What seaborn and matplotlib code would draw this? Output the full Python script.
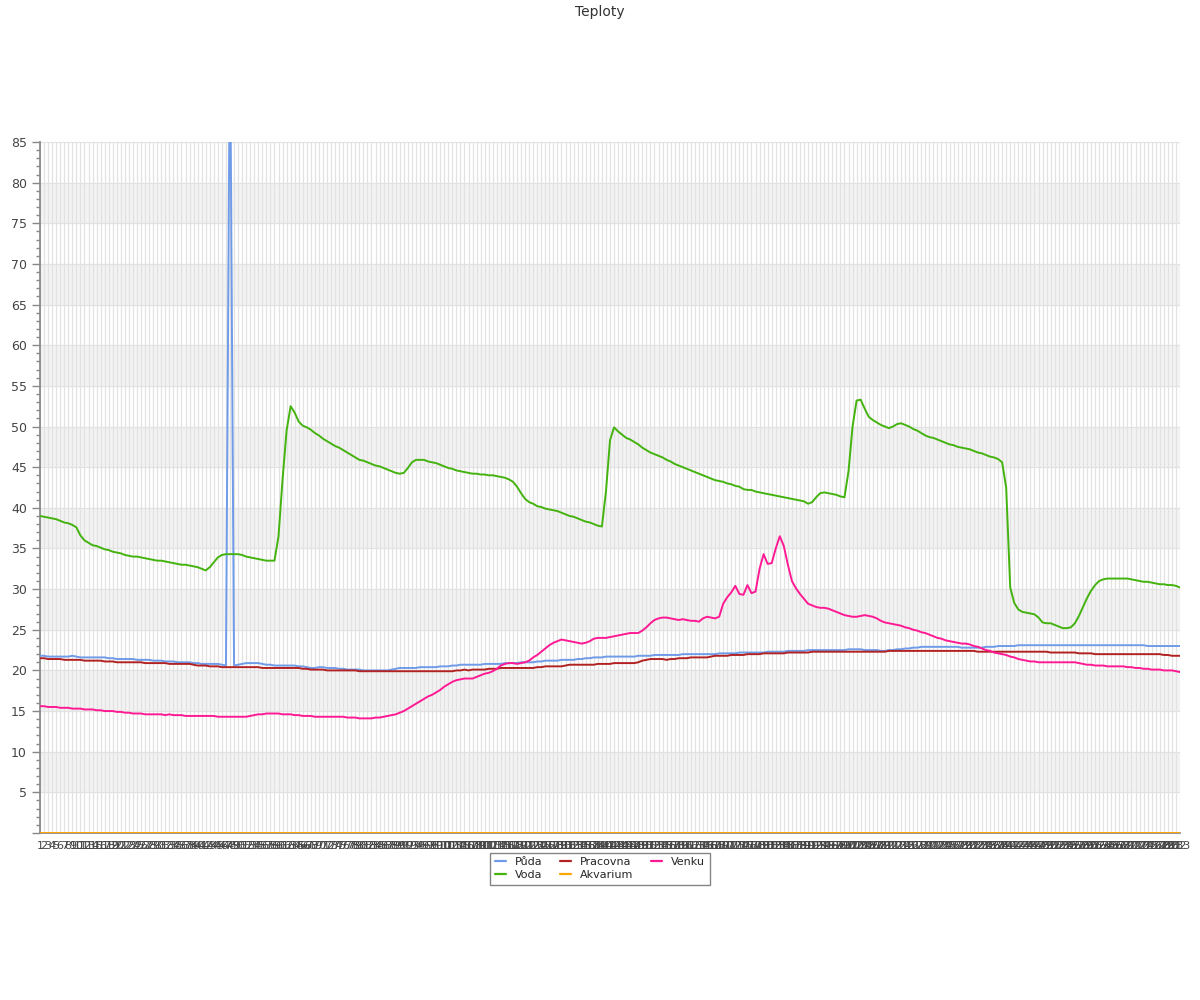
import matplotlib
matplotlib.use("Agg")
import matplotlib.pyplot as plt
import pandas as pd
import seaborn as sns

# category labels along x (sample numbers)
labels = [str(n) for n in range(1, 284)]

puda = [
    21.8, 21.8, 21.7, 21.7, 21.7, 21.7, 21.7, 21.7, 21.8, 21.7,
    21.6, 21.6, 21.6, 21.6, 21.6, 21.6, 21.6, 21.5, 21.5, 21.4,
    21.4, 21.4, 21.4, 21.4, 21.3, 21.3, 21.3, 21.3, 21.2, 21.2,
    21.2, 21.1, 21.1, 21.1, 21.0, 21.0, 21.0, 21.0, 20.9, 20.9,
    20.8, 20.8, 20.8, 20.8, 20.8, 20.7, 20.6, 100.0, 20.6, 20.7,
    20.8, 20.9, 20.9, 20.9, 20.9, 20.8, 20.7, 20.7, 20.6, 20.6,
    20.6, 20.6, 20.6, 20.6, 20.5, 20.5, 20.4, 20.3, 20.3, 20.4,
    20.4, 20.3, 20.3, 20.3, 20.2, 20.2, 20.1, 20.1, 20.1, 20.1,
    20.0, 20.0, 20.0, 20.0, 20.0, 20.0, 20.0, 20.1, 20.2, 20.3,
    20.3, 20.3, 20.3, 20.3, 20.4, 20.4, 20.4, 20.4, 20.4, 20.5,
    20.5, 20.5, 20.6, 20.6, 20.7, 20.7, 20.7, 20.7, 20.7, 20.7,
    20.8, 20.8, 20.8, 20.8, 20.8, 20.9, 20.9, 20.9, 20.9, 21.0,
    21.0, 21.0, 21.0, 21.1, 21.1, 21.2, 21.2, 21.2, 21.2, 21.3,
    21.3, 21.3, 21.3, 21.4, 21.4, 21.5, 21.5, 21.6, 21.6, 21.6,
    21.7, 21.7, 21.7, 21.7, 21.7, 21.7, 21.7, 21.7, 21.8, 21.8,
    21.8, 21.8, 21.9, 21.9, 21.9, 21.9, 21.9, 21.9, 21.9, 22.0,
    22.0, 22.0, 22.0, 22.0, 22.0, 22.0, 22.0, 22.0, 22.1, 22.1,
    22.1, 22.1, 22.1, 22.2, 22.2, 22.2, 22.2, 22.2, 22.2, 22.2,
    22.3, 22.3, 22.3, 22.3, 22.3, 22.4, 22.4, 22.4, 22.4, 22.4,
    22.5, 22.5, 22.5, 22.5, 22.5, 22.5, 22.5, 22.5, 22.5, 22.5,
    22.6, 22.6, 22.6, 22.6, 22.5, 22.5, 22.5, 22.5, 22.4, 22.4,
    22.5, 22.5, 22.6, 22.6, 22.7, 22.7, 22.8, 22.8, 22.9, 22.9,
    22.9, 22.9, 22.9, 22.9, 22.9, 22.9, 22.9, 22.9, 22.8, 22.8,
    22.8, 22.8, 22.8, 22.8, 22.9, 22.9, 22.9, 23.0, 23.0, 23.0,
    23.0, 23.0, 23.1, 23.1, 23.1, 23.1, 23.1, 23.1, 23.1, 23.1,
    23.1, 23.1, 23.1, 23.1, 23.1, 23.1, 23.1, 23.1, 23.1, 23.1,
    23.1, 23.1, 23.1, 23.1, 23.1, 23.1, 23.1, 23.1, 23.1, 23.1,
    23.1, 23.1, 23.1, 23.1, 23.0, 23.0, 23.0, 23.0, 23.0, 23.0,
    23.0, 23.0, 23.0,
]

voda = [
    39.0, 38.9, 38.8, 38.7, 38.6, 38.4, 38.2, 38.1, 37.9, 37.6,
    36.6, 36.0, 35.7, 35.4, 35.3, 35.1, 34.9, 34.8, 34.6, 34.5,
    34.4, 34.2, 34.1, 34.0, 34.0, 33.9, 33.8, 33.7, 33.6, 33.5,
    33.5, 33.4, 33.3, 33.2, 33.1, 33.0, 33.0, 32.9, 32.8, 32.7,
    32.5, 32.3, 32.7, 33.3, 33.9, 34.2, 34.3, 34.3, 34.3, 34.3,
    34.2, 34.0, 33.9, 33.8, 33.7, 33.6, 33.5, 33.5, 33.5, 36.5,
    43.5, 49.5, 52.5, 51.7, 50.6, 50.1, 49.9, 49.6, 49.2, 48.9,
    48.5, 48.2, 47.9, 47.6, 47.4, 47.1, 46.8, 46.5, 46.2, 45.9,
    45.8, 45.6, 45.4, 45.2, 45.1, 44.9, 44.7, 44.5, 44.3, 44.2,
    44.3, 44.9, 45.6, 45.9, 45.9, 45.9, 45.7, 45.6, 45.5, 45.3,
    45.1, 44.9, 44.8, 44.6, 44.5, 44.4, 44.3, 44.2, 44.2, 44.1,
    44.1, 44.0, 44.0, 43.9, 43.8, 43.7, 43.5, 43.2, 42.6, 41.8,
    41.1, 40.7, 40.5, 40.2, 40.1, 39.9, 39.8, 39.7, 39.6, 39.4,
    39.2, 39.0, 38.9, 38.7, 38.5, 38.3, 38.2, 38.0, 37.8, 37.7,
    42.0, 48.3, 49.9, 49.4, 49.0, 48.6, 48.4, 48.1, 47.8, 47.4,
    47.1, 46.8, 46.6, 46.4, 46.2, 45.9, 45.7, 45.4, 45.2, 45.0,
    44.8, 44.6, 44.4, 44.2, 44.0, 43.8, 43.6, 43.4, 43.3, 43.2,
    43.0, 42.9, 42.7, 42.6, 42.3, 42.2, 42.2, 42.0, 41.9, 41.8,
    41.7, 41.6, 41.5, 41.4, 41.3, 41.2, 41.1, 41.0, 40.9, 40.8,
    40.5, 40.7, 41.3, 41.8, 41.9, 41.8, 41.7, 41.6, 41.4, 41.3,
    44.5, 50.0, 53.2, 53.3, 52.2, 51.2, 50.8, 50.5, 50.2, 50.0,
    49.8, 50.0, 50.3, 50.4, 50.2, 50.0, 49.7, 49.5, 49.2, 48.9,
    48.7, 48.6, 48.4, 48.2, 48.0, 47.8, 47.7, 47.5, 47.4, 47.3,
    47.2, 47.0, 46.8, 46.7, 46.5, 46.3, 46.2, 46.0, 45.6, 42.5,
    30.2, 28.3, 27.5, 27.2, 27.1, 27.0, 26.9, 26.5, 25.9, 25.8,
    25.8, 25.6, 25.4, 25.2, 25.2, 25.3, 25.8, 26.7, 27.8, 28.9,
    29.8, 30.5, 31.0, 31.2, 31.3, 31.3, 31.3, 31.3, 31.3, 31.3,
    31.2, 31.1, 31.0, 30.9, 30.9, 30.8, 30.7, 30.6, 30.6, 30.5,
    30.5, 30.4, 30.2,
]

pracovna = [
    21.5, 21.5, 21.4, 21.4, 21.4, 21.4, 21.3, 21.3, 21.3, 21.3,
    21.3, 21.2, 21.2, 21.2, 21.2, 21.2, 21.1, 21.1, 21.1, 21.0,
    21.0, 21.0, 21.0, 21.0, 21.0, 21.0, 20.9, 20.9, 20.9, 20.9,
    20.9, 20.9, 20.8, 20.8, 20.8, 20.8, 20.8, 20.8, 20.7, 20.6,
    20.6, 20.6, 20.5, 20.5, 20.5, 20.4, 20.4, 20.4, 20.4, 20.4,
    20.4, 20.4, 20.4, 20.4, 20.4, 20.3, 20.3, 20.3, 20.3, 20.3,
    20.3, 20.3, 20.3, 20.3, 20.3, 20.2, 20.2, 20.1, 20.1, 20.1,
    20.1, 20.0, 20.0, 20.0, 20.0, 20.0, 20.0, 20.0, 20.0, 19.9,
    19.9, 19.9, 19.9, 19.9, 19.9, 19.9, 19.9, 19.9, 19.9, 19.9,
    19.9, 19.9, 19.9, 19.9, 19.9, 19.9, 19.9, 19.9, 19.9, 19.9,
    19.9, 19.9, 19.9, 20.0, 20.0, 20.1, 20.0, 20.1, 20.1, 20.1,
    20.1, 20.2, 20.2, 20.2, 20.3, 20.3, 20.3, 20.3, 20.3, 20.3,
    20.3, 20.3, 20.3, 20.4, 20.4, 20.5, 20.5, 20.5, 20.5, 20.5,
    20.6, 20.7, 20.7, 20.7, 20.7, 20.7, 20.7, 20.7, 20.8, 20.8,
    20.8, 20.8, 20.9, 20.9, 20.9, 20.9, 20.9, 20.9, 21.0, 21.2,
    21.3, 21.4, 21.4, 21.4, 21.4, 21.3, 21.4, 21.4, 21.5, 21.5,
    21.5, 21.6, 21.6, 21.6, 21.6, 21.6, 21.7, 21.8, 21.8, 21.8,
    21.8, 21.9, 21.9, 21.9, 21.9, 22.0, 22.0, 22.0, 22.0, 22.1,
    22.1, 22.1, 22.1, 22.1, 22.1, 22.2, 22.2, 22.2, 22.2, 22.2,
    22.2, 22.3, 22.3, 22.3, 22.3, 22.3, 22.3, 22.3, 22.3, 22.3,
    22.3, 22.3, 22.3, 22.3, 22.3, 22.3, 22.3, 22.3, 22.3, 22.3,
    22.4, 22.4, 22.4, 22.4, 22.4, 22.4, 22.4, 22.4, 22.4, 22.4,
    22.4, 22.4, 22.4, 22.4, 22.4, 22.4, 22.4, 22.4, 22.4, 22.4,
    22.4, 22.4, 22.3, 22.3, 22.3, 22.3, 22.3, 22.3, 22.3, 22.3,
    22.3, 22.3, 22.3, 22.3, 22.3, 22.3, 22.3, 22.3, 22.3, 22.3,
    22.2, 22.2, 22.2, 22.2, 22.2, 22.2, 22.2, 22.1, 22.1, 22.1,
    22.1, 22.0, 22.0, 22.0, 22.0, 22.0, 22.0, 22.0, 22.0, 22.0,
    22.0, 22.0, 22.0, 22.0, 22.0, 22.0, 22.0, 22.0, 21.9, 21.9,
    21.8, 21.8, 21.8,
]

venku = [
    15.6, 15.6, 15.5, 15.5, 15.5, 15.4, 15.4, 15.4, 15.3, 15.3,
    15.3, 15.2, 15.2, 15.2, 15.1, 15.1, 15.0, 15.0, 15.0, 14.9,
    14.9, 14.8, 14.8, 14.7, 14.7, 14.7, 14.6, 14.6, 14.6, 14.6,
    14.6, 14.5, 14.6, 14.5, 14.5, 14.5, 14.4, 14.4, 14.4, 14.4,
    14.4, 14.4, 14.4, 14.4, 14.3, 14.3, 14.3, 14.3, 14.3, 14.3,
    14.3, 14.3, 14.4, 14.5, 14.6, 14.6, 14.7, 14.7, 14.7, 14.7,
    14.6, 14.6, 14.6, 14.5, 14.5, 14.4, 14.4, 14.4, 14.3, 14.3,
    14.3, 14.3, 14.3, 14.3, 14.3, 14.3, 14.2, 14.2, 14.2, 14.1,
    14.1, 14.1, 14.1, 14.2, 14.2, 14.3, 14.4, 14.5, 14.6, 14.8,
    15.0, 15.3, 15.6, 15.9, 16.2, 16.5, 16.8, 17.0, 17.3, 17.6,
    18.0, 18.3, 18.6, 18.8, 18.9, 19.0, 19.0, 19.0, 19.2, 19.4,
    19.6, 19.7, 19.9, 20.2, 20.6, 20.8, 20.9, 20.9, 20.8, 20.9,
    21.0, 21.2, 21.6, 21.9, 22.3, 22.7, 23.1, 23.4, 23.6, 23.8,
    23.7, 23.6, 23.5, 23.4, 23.3, 23.4, 23.6, 23.9, 24.0, 24.0,
    24.0, 24.1, 24.2, 24.3, 24.4, 24.5, 24.6, 24.6, 24.6, 24.9,
    25.3, 25.8, 26.2, 26.4, 26.5, 26.5, 26.4, 26.3, 26.2, 26.3,
    26.2, 26.1, 26.1, 26.0, 26.4, 26.6, 26.5, 26.4, 26.6, 28.2,
    29.0, 29.6, 30.4, 29.4, 29.3, 30.5, 29.5, 29.7, 32.5, 34.3,
    33.1, 33.2, 35.0, 36.5, 35.3, 33.0, 31.0, 30.1, 29.4, 28.8,
    28.2, 28.0, 27.8, 27.7, 27.7, 27.6, 27.4, 27.2, 27.0, 26.8,
    26.7, 26.6, 26.6, 26.7, 26.8, 26.7, 26.6, 26.4, 26.1, 25.9,
    25.8, 25.7, 25.6, 25.5, 25.3, 25.2, 25.0, 24.9, 24.7, 24.6,
    24.4, 24.2, 24.0, 23.9, 23.7, 23.6, 23.5, 23.4, 23.3, 23.3,
    23.2, 23.0, 22.9, 22.7, 22.5, 22.4, 22.2, 22.1, 22.0, 21.9,
    21.7, 21.6, 21.4, 21.3, 21.2, 21.1, 21.1, 21.0, 21.0, 21.0,
    21.0, 21.0, 21.0, 21.0, 21.0, 21.0, 21.0, 20.9, 20.8, 20.7,
    20.7, 20.6, 20.6, 20.6, 20.5, 20.5, 20.5, 20.5, 20.5, 20.4,
    20.4, 20.3, 20.3, 20.2, 20.2, 20.1, 20.1, 20.1, 20.0, 20.0,
    20.0, 19.9, 19.8,
]

akvarium = [0.0] * len(labels)

series_names = ["Půda", "Voda", "Pracovna", "Akvarium", "Venku"]
colors = {
    "Půda": "#6f9be8",
    "Voda": "#44b30f",
    "Pracovna": "#b22222",
    "Akvarium": "#ffa500",
    "Venku": "#ff1a94",
}

frames = []
for name, vals in zip(series_names, [puda, voda, pracovna, akvarium, venku]):
    frames.append(pd.DataFrame({"idx": range(len(vals)), "value": vals, "series": name}))
df = pd.concat(frames, ignore_index=True)

sns.set_theme(style="white")
plt.rcParams["font.family"] = ["DejaVu Sans"]

fig = plt.figure(figsize=(12, 10), dpi=100)
ax = fig.add_axes([40 / 1200, 1 - 833 / 1000, 1140 / 1200, 691 / 1000])

# alternating horizontal bands
for lo in range(5, 85, 10):
    ax.axhspan(lo, lo + 5, color="#f3f3f3", zorder=0, lw=0)

sns.lineplot(data=df, x="idx", y="value", hue="series", hue_order=series_names,
             palette=colors, estimator=None, sort=False, linewidth=1.4, ax=ax,
             legend=False, zorder=3)

ax.set_xlim(0, len(labels) - 1)
ax.set_ylim(0, 85)
ax.set_xticks(range(len(labels)))
ax.set_xticklabels(labels, fontsize=8, color="#444444")
ax.tick_params(axis="x", length=0, pad=6)
ax.set_yticks(range(0, 90, 5))
ax.set_yticklabels([""] + [str(v) for v in range(5, 90, 5)], fontsize=9, color="#444444")
ax.set_yticks(range(0, 86), minor=True)
ax.tick_params(axis="y", which="major", length=6, width=1, color="#888888", left=True)
ax.tick_params(axis="y", which="minor", length=3, width=1, color="#888888", left=True)
ax.grid(axis="both", which="major", color="#e2e2e2", linewidth=0.9, zorder=1)
ax.set_axisbelow(True)
ax.set_xlabel("")
ax.set_ylabel("")

for side in ["top", "right"]:
    ax.spines[side].set_visible(False)
ax.spines["left"].set_color("#888888")
ax.spines["bottom"].set_color("#888888")

handles = [plt.Line2D([], [], color=colors[n], lw=1.6) for n in series_names]
leg = fig.legend(handles, series_names, loc="upper center", bbox_to_anchor=(0.5, 1 - 847 / 1000),
                 ncol=3, fontsize=8, frameon=True, fancybox=False, handlelength=1.0,
                 columnspacing=1.6, borderpad=0.4, labelspacing=0.3)
leg.get_frame().set_edgecolor("#666666")
leg.get_frame().set_linewidth(1.0)

fig.suptitle("Teploty", y=0.995, fontsize=10, color="#333333")

fig.savefig("out.png", dpi=100)
